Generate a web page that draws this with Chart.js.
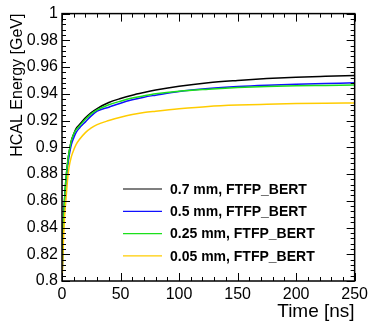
<!DOCTYPE html>
<html>
<head>
<meta charset="utf-8">
<script src="https://cdn.jsdelivr.net/npm/chart.js@4/dist/chart.umd.min.js"></script>
<style>
  html, body { margin: 0; padding: 0; background: #fff; }
  canvas { display: block; }
</style>
</head>
<body>
<canvas id="c" width="372" height="323"></canvas>
<script>
// time samples [ns]
const times = [0, 0.5, 1, 2, 3, 4, 5, 6, 8, 10, 12, 15, 20, 25, 30, 40, 50, 60, 70, 80, 100, 125, 150, 175, 200, 225, 250];

// HCAL energy [GeV] per target thickness
const e07mm  = [0.80, 0.820, 0.838, 0.858, 0.872, 0.882, 0.890, 0.896, 0.905, 0.910, 0.914, 0.917, 0.922, 0.926, 0.929, 0.9335, 0.9365, 0.939, 0.941, 0.9428, 0.9457, 0.9483, 0.950, 0.9514, 0.9524, 0.9531, 0.9537];
const e05mm  = [0.80, 0.818, 0.835, 0.855, 0.868, 0.878, 0.887, 0.893, 0.902, 0.907, 0.911, 0.9145, 0.919, 0.9235, 0.927, 0.930, 0.933, 0.9355, 0.9375, 0.939, 0.9418, 0.9440, 0.9455, 0.9465, 0.9472, 0.9477, 0.9482];
const e025mm = [0.80, 0.820, 0.838, 0.858, 0.872, 0.882, 0.890, 0.896, 0.905, 0.910, 0.913, 0.916, 0.921, 0.925, 0.928, 0.9318, 0.9345, 0.9368, 0.9385, 0.940, 0.9420, 0.9435, 0.9447, 0.9455, 0.946, 0.9463, 0.9466];
const e005mm = [0.80, 0.810, 0.825, 0.845, 0.857, 0.868, 0.878, 0.885, 0.893, 0.898, 0.902, 0.906, 0.911, 0.9145, 0.917, 0.920, 0.9225, 0.9245, 0.926, 0.927, 0.9288, 0.9306, 0.9316, 0.9322, 0.9327, 0.933, 0.9332];

const seriesLabels = ['0.7 mm, FTFP_BERT', '0.5 mm, FTFP_BERT', '0.25 mm, FTFP_BERT', '0.05 mm, FTFP_BERT'];
const seriesColors = ['#000000', '#1010ff', '#1be01b', '#ffcc00'];
const seriesValues = [e07mm, e05mm, e025mm, e005mm];

const FONT = "'Liberation Sans', Arial, Helvetica, sans-serif";

const toXY = vals => vals.map((v, i) => ({ x: times[i], y: v }));

// ROOT style frame + inward ticks on all four sides
const rootFrame = {
  id: 'rootFrame',
  afterDraw(chart) {
    const { ctx, chartArea: a, scales: { x, y } } = chart;
    ctx.save();
    ctx.strokeStyle = '#000';
    ctx.lineWidth = 1;
    ctx.beginPath();
    // x ticks: minor every 10, major every 50
    for (let t = 0; t <= 250; t += 10) {
      const px = Math.round(x.getPixelForValue(t)) + 0.5;
      const len = (t % 50 === 0) ? 8 : 4;
      ctx.moveTo(px, a.bottom); ctx.lineTo(px, a.bottom - len);
      ctx.moveTo(px, a.top); ctx.lineTo(px, a.top + len);
    }
    // y ticks: minor every 0.004, major every 0.02
    for (let k = 0; k <= 50; k++) {
      const v = 0.8 + k * 0.004;
      const py = Math.round(y.getPixelForValue(v)) + 0.5;
      const len = (k % 5 === 0) ? 8 : 4;
      ctx.moveTo(a.left, py); ctx.lineTo(a.left + len, py);
      ctx.moveTo(a.right, py); ctx.lineTo(a.right - len, py);
    }
    ctx.stroke();
    ctx.lineWidth = 1.5;
    ctx.strokeRect(a.left, a.top, a.right - a.left, a.bottom - a.top);

    // legend (no box), bottom right inside the frame
    ctx.font = 'bold 14px ' + FONT;
    ctx.textBaseline = 'middle';
    ctx.textAlign = 'left';
    chart.data.datasets.forEach((ds, i) => {
      const ly = 189 + i * 22.3;
      ctx.strokeStyle = ds.borderColor;
      ctx.lineWidth = 1.2;
      ctx.beginPath();
      ctx.moveTo(123, ly); ctx.lineTo(162, ly);
      ctx.stroke();
      ctx.fillStyle = '#000';
      ctx.fillText(ds.label, 170, ly + 1);
    });
    ctx.restore();
  }
};

new Chart(document.getElementById('c'), {
  type: 'line',
  data: {
    datasets: seriesValues.map((vals, i) => ({
      label: seriesLabels[i],
      data: toXY(vals),
      borderColor: seriesColors[i],
      borderWidth: 1.5,
      pointRadius: 0,
      cubicInterpolationMode: 'monotone',
      fill: false,
      order: 3 - i
    }))
  },
  options: {
    responsive: false,
    animation: false,
    devicePixelRatio: 1,
    layout: { padding: { top: 13, right: 15, left: 0, bottom: 0 } },
    plugins: { legend: { display: false }, tooltip: { enabled: false } },
    scales: {
      x: {
        type: 'linear', min: 0, max: 250,
        grid: { display: false, drawTicks: false },
        border: { display: false },
        ticks: { stepSize: 50, color: '#000', font: { family: FONT, size: 16 }, padding: 4, maxRotation: 0 },
        title: { display: true, text: 'Time [ns]', align: 'end', color: '#000', font: { family: FONT, size: 19 }, padding: { top: 0, bottom: 0 } },
        afterFit(s) { s.height = 42; }
      },
      y: {
        min: 0.8, max: 1,
        grid: { display: false, drawTicks: false },
        border: { display: false },
        ticks: { stepSize: 0.02, color: '#000', font: { family: FONT, size: 16 }, padding: 4, callback: v => String(+v.toFixed(2)) },
        title: { display: true, text: 'HCAL Energy [GeV]', align: 'end', color: '#000', font: { family: FONT, size: 16 }, padding: { top: 8, bottom: 0 } },
        afterFit(s) { s.width = 62; }
      }
    }
  },
  plugins: [rootFrame]
});
</script>
</body>
</html>
